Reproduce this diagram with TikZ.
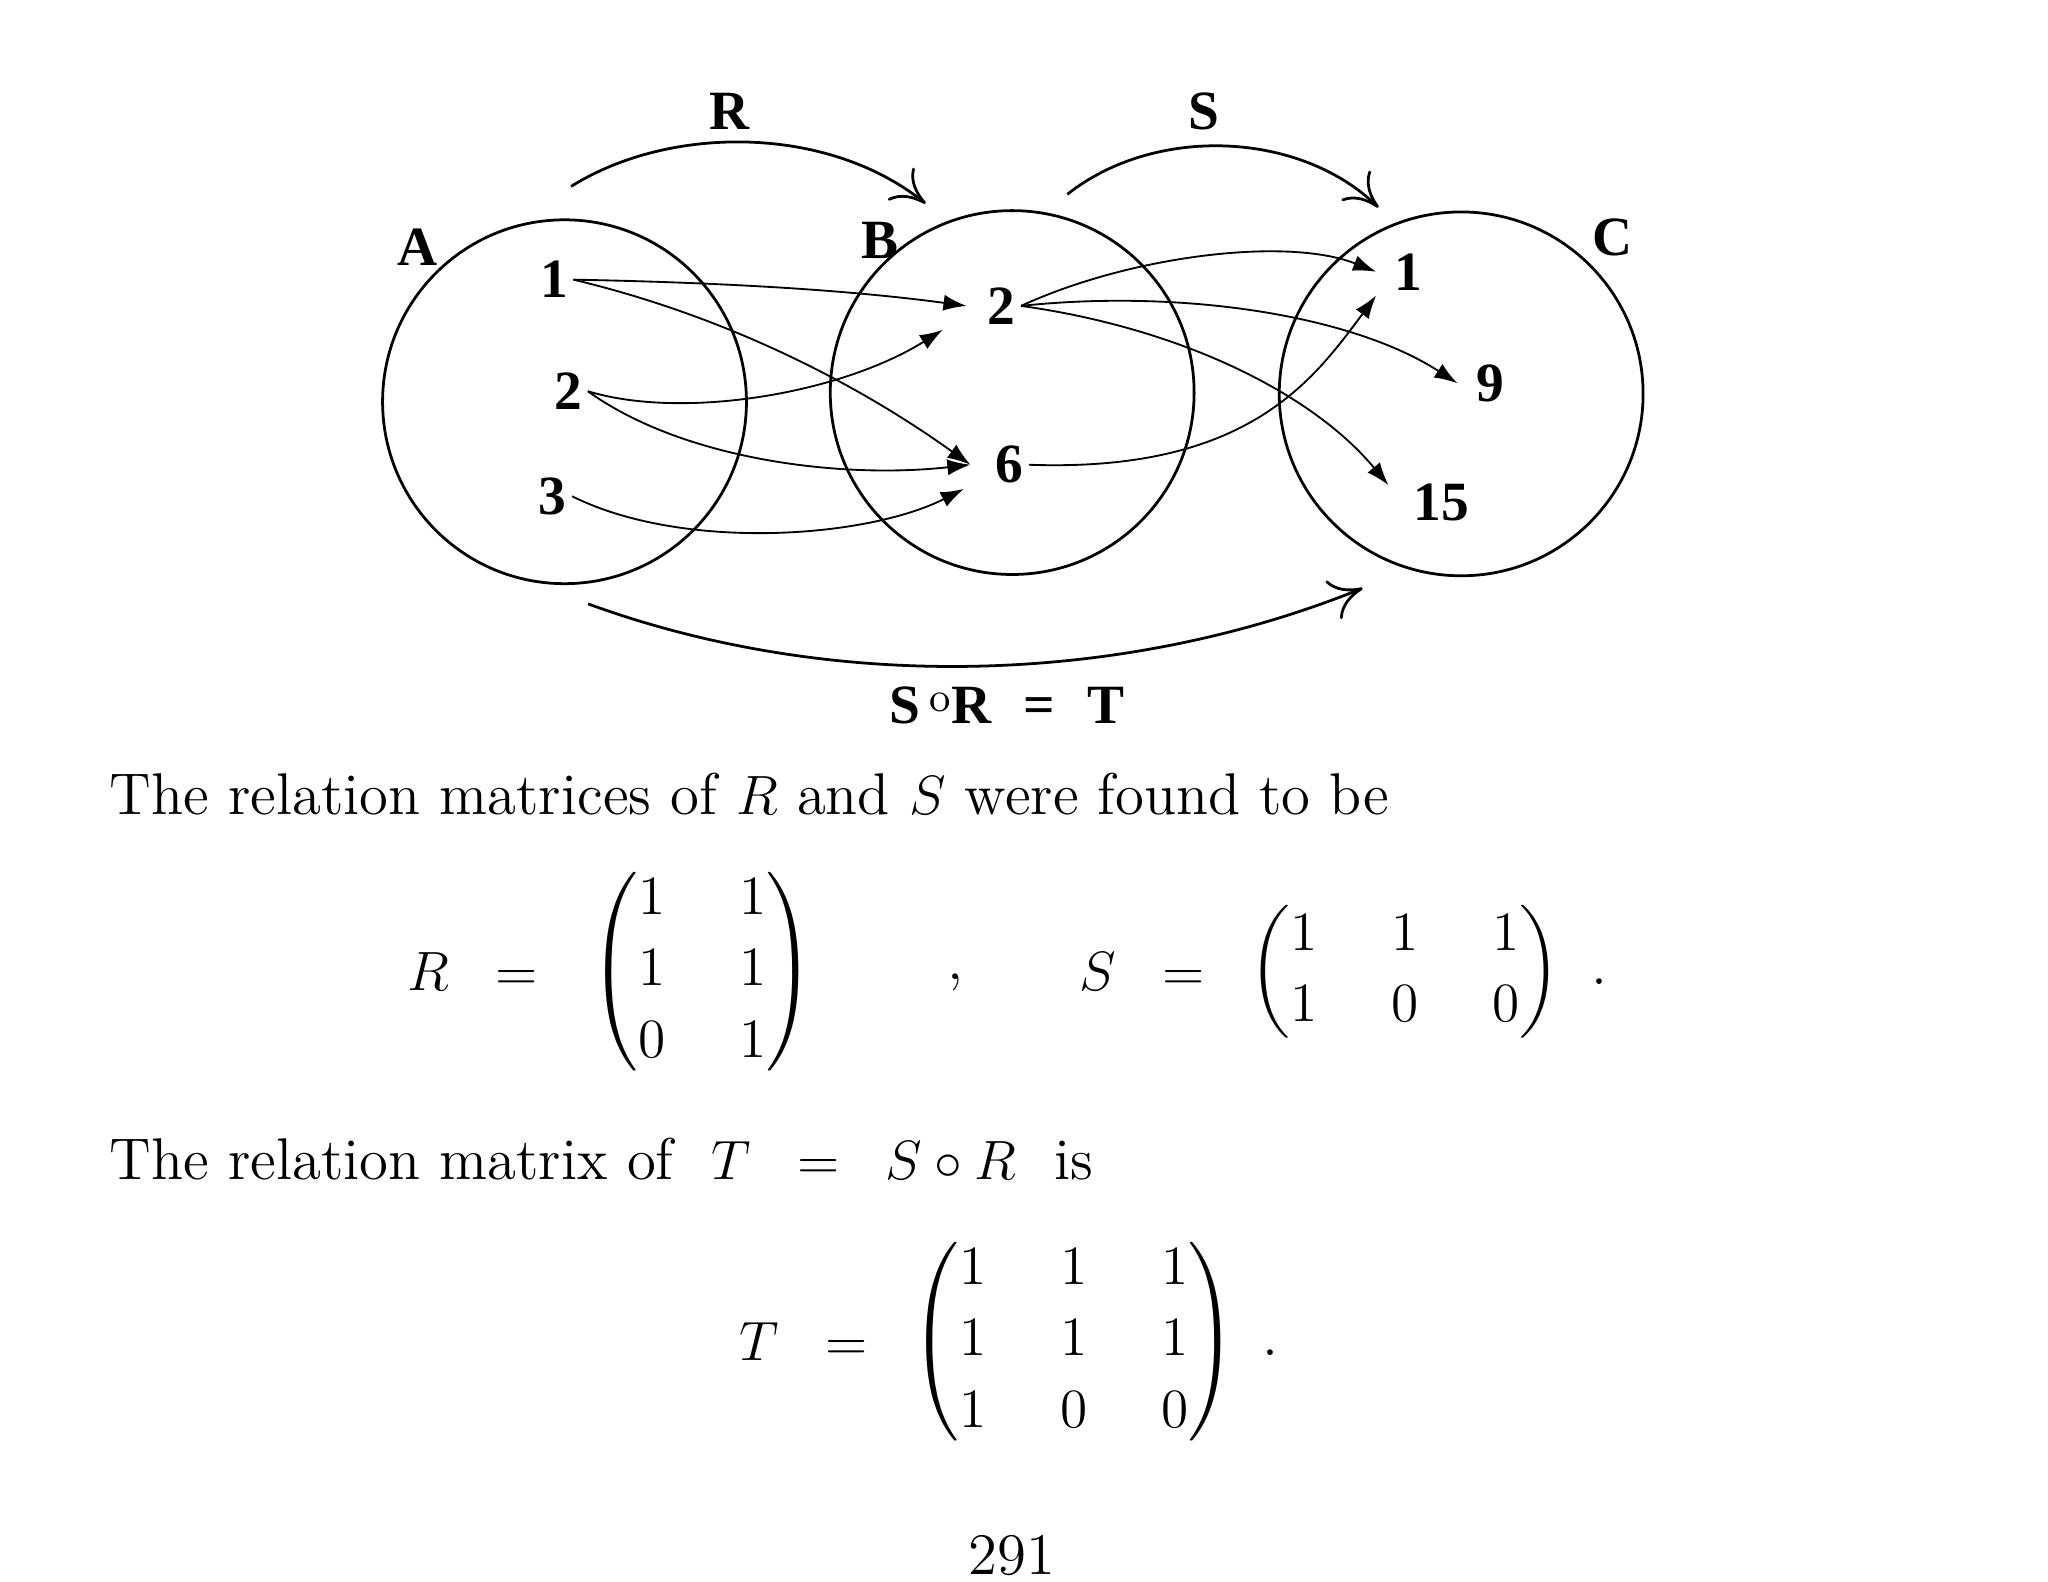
\documentclass[tikz,border=0pt]{standalone}
\usepackage{amsmath}
\usepackage{fontspec}
\newfontfamily\tb{Liberation Serif}
\usetikzlibrary{arrows.meta}
\begin{document}
\begin{tikzpicture}[x=0.01cm,y=-0.01cm,
  lbl/.style={font=\fontsize{12}{14}\tb\bfseries},
  txt/.style={font=\fontsize{12.75}{15}\selectfont},
  rel/.style={-{Latex[length=5pt,width=3.5pt]},thin},
  big/.style={-{To[length=7pt,width=9pt]},semithick},
  set/.style={draw,circle,minimum size=2.77cm,semithick}]
\useasboundingbox (0,0) rectangle (1560,1205);
\node[set] (cA) at (430,306) {};
\node[set] (cB) at (771,299) {};
\node[set] (cC) at (1113,300) {};
\node[lbl] (lA) at (318,188) {A};
\node[lbl] (lB) at (670,183) {B};
\node[lbl] (lC) at (1228,181) {C};
\node[lbl] (lR) at (556,85) {R};
\node[lbl] (lS) at (917,85) {S};
\node[lbl,inner sep=1pt] (a1) at (422,213) {1};
\node[lbl,inner sep=1pt] (a2) at (433,298) {2};
\node[lbl,inner sep=1pt] (a3) at (421,378) {3};
\node[lbl,inner sep=1pt] (b2) at (763,233) {2};
\node[lbl,inner sep=1pt] (b6) at (769,354) {6};
\node[lbl,inner sep=1pt] (c1) at (1073,207) {1};
\node[lbl,inner sep=1pt] (c9) at (1135,292) {9};
\node[lbl,inner sep=1pt] (c15) at (1098,383) {15};
\coordinate (rs) at (435,142); \coordinate (re) at (705,155);
\coordinate (ss) at (813,148); \coordinate (se) at (1050,158);
\coordinate (ts) at (448,460); \coordinate (te) at (1038,448);
\draw[big] (rs) .. controls (510,95) and (630,95) .. (re);
\draw[big] (ss) .. controls (880,95) and (990,100) .. (se);
\draw[big] (ts) .. controls (640,530) and (860,520) .. (te);
\draw[rel] (a1.east) .. controls (540,215) and (640,220) .. ([xshift=-0.12cm]b2.west);
\draw[rel] (a1.east) .. controls (550,240) and (650,290) .. ([xshift=-0.15cm]b6.west);
\draw[rel] (a2.east) .. controls (520,320) and (640,300) .. ([xshift=-0.3cm]b2.south west);
\draw[rel] (a2.east) .. controls (520,350) and (640,365) .. ([xshift=-0.15cm]b6.west);
\draw[rel] (a3.east) .. controls (520,420) and (660,410) .. ([xshift=-0.2cm]b6.south west);
\draw[rel] (b2.east) .. controls (860,195) and (980,180) .. ([xshift=-0.1cm]c1.west);
\draw[rel] (b2.east) .. controls (900,220) and (1030,240) .. ([xshift=-0.1cm]c9.west);
\draw[rel] (b2.east) .. controls (900,250) and (1000,300) .. ([shift={(-0.15cm,-0.05cm)}]c15.north west);
\draw[rel] (b6.east) .. controls (950,360) and (1000,290) .. ([xshift=-0.1cm]c1.south west);
\node[lbl] (sr) at (767,537) {S\,\raisebox{0.45ex}{\fontsize{9}{10}\selectfont\normalfont o}R\,\, =\,\, T};
\node[txt,anchor=west,inner sep=0pt] (t1) at (83,605) {The relation matrices of $R$ and $S$ were found to be};
\node[txt] (eqR) at (360,740) {$R\;\;=$};
\node[txt] (mR) at (535,740) {$\renewcommand{\arraystretch}{1.03}\setlength{\arraycolsep}{8pt}\begin{pmatrix}1&1\\1&1\\0&1\end{pmatrix}$};
\node[txt] (cm) at (728,748) {,};
\node[txt] (eqS) at (870,740) {$S\;\;=$};
\node[txt] (mS) at (1070,740) {$\renewcommand{\arraystretch}{1.03}\setlength{\arraycolsep}{8pt}\begin{pmatrix}1&1&1\\1&0&0\end{pmatrix}$};
\node[txt] (p1) at (1218,748) {.};
\node[txt,anchor=west,inner sep=0pt] (t2) at (83,883) {The relation matrix of \ $T\;\;=\;\;S\circ R$ \ is};
\node[txt] (eqT) at (612,1022) {$T\;\;=$};
\node[txt] (mT) at (818,1022) {$\renewcommand{\arraystretch}{1.03}\setlength{\arraycolsep}{8pt}\begin{pmatrix}1&1&1\\1&1&1\\1&0&0\end{pmatrix}$};
\node[txt] (p2) at (968,1030) {.};
\node[txt] (pg) at (771,1185) {291};
\end{tikzpicture}
\end{document}
